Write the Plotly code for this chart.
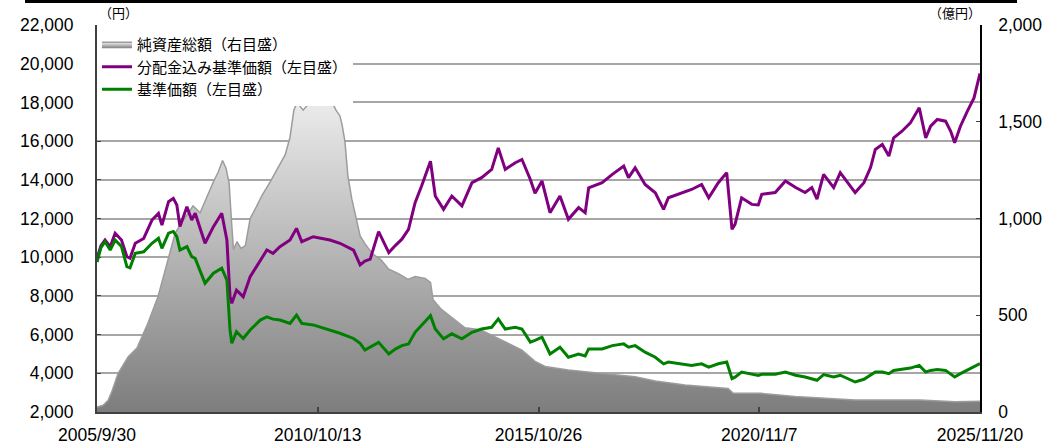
import plotly.graph_objects as go

# ---------------- data ----------------
nav_dates = [
    "2005-09-30", "2005-11-20", "2006-01-01", "2006-02-03", "2006-03-25", "2006-06-17",
    "2006-08-29", "2006-11-28", "2007-02-20", "2007-04-05", "2007-06-03", "2007-07-13",
    "2007-08-22", "2007-10-12", "2007-12-09", "2008-02-06", "2008-04-06", "2008-05-27",
    "2008-07-06", "2008-08-11", "2008-09-09", "2008-10-05", "2008-10-23", "2008-11-10",
    "2008-12-09", "2009-01-11", "2009-02-17", "2009-03-29", "2009-05-19", "2009-07-06",
    "2009-09-13", "2009-11-17", "2010-01-15", "2010-02-24", "2010-03-28", "2010-04-23",
    "2010-06-13", "2010-08-07", "2010-10-16", "2010-12-13", "2011-02-02", "2011-03-14",
    "2011-04-16", "2011-05-05", "2011-05-27", "2011-06-21", "2011-07-24", "2011-08-26",
    "2011-10-01", "2011-11-10", "2012-01-08", "2012-03-25", "2012-05-23", "2012-08-15",
    "2012-11-03", "2013-01-01", "2013-03-26", "2013-05-09", "2013-05-31", "2013-08-08",
    "2013-12-03", "2014-02-21", "2014-06-29", "2014-10-30", "2015-02-17", "2015-06-10",
    "2015-09-27", "2015-12-20", "2016-07-01", "2017-03-20", "2018-01-08", "2018-06-25",
    "2019-02-28", "2020-02-21", "2020-04-05", "2020-11-14", "2021-09-02", "2023-01-15",
    "2024-07-08", "2025-04-27", "2025-11-20",
]
net_assets = [
    25, 35, 60, 110, 200, 286,
    330, 458, 596, 700, 840, 923,
    965, 1010, 1065, 1030, 1120, 1190,
    1240, 1300, 1260, 1180, 1000, 840,
    880, 845, 860, 1000, 1060, 1120,
    1190, 1260, 1330, 1420, 1560, 1600,
    1560, 1600, 1620, 1625, 1610, 1560,
    1530, 1480, 1400, 1220, 1100, 1010,
    910, 870, 820, 785, 740, 715,
    685, 700, 690, 670, 580, 530,
    475, 435, 425, 390, 355, 320,
    262, 235, 217, 200, 182, 160,
    140, 122, 97, 97, 80, 62,
    62, 53, 55,
]

price_dates = [
    "2005-09-30", "2005-11-02", "2005-12-06", "2006-01-18", "2006-02-28", "2006-04-22",
    "2006-06-06", "2006-07-02", "2006-08-15", "2006-10-24", "2007-01-01", "2007-02-24",
    "2007-03-25", "2007-05-19", "2007-06-28", "2007-07-27", "2007-08-22", "2007-10-19",
    "2007-11-28", "2007-12-27", "2008-03-18", "2008-05-27", "2008-08-04", "2008-09-16",
    "2008-10-12", "2008-10-27", "2008-12-05", "2009-01-30", "2009-03-29", "2009-06-21",
    "2009-08-15", "2009-10-05", "2009-12-02", "2010-02-24", "2010-04-19", "2010-06-02",
    "2010-09-05", "2011-01-22", "2011-04-16", "2011-08-07", "2011-10-01", "2011-11-10",
    "2011-12-24", "2012-03-03", "2012-05-27", "2012-07-20", "2012-09-13", "2012-11-07",
    "2013-01-01", "2013-02-24", "2013-05-09", "2013-06-18", "2013-08-26", "2013-11-03",
    "2014-01-26", "2014-04-20", "2014-07-09", "2014-10-01", "2014-11-25", "2015-01-22",
    "2015-04-16", "2015-06-10", "2015-08-19", "2015-09-27", "2015-11-24", "2016-01-30",
    "2016-04-22", "2016-07-01", "2016-09-24", "2016-11-18", "2016-12-17", "2017-04-08",
    "2017-07-02", "2017-10-05", "2017-11-14", "2018-01-08", "2018-04-01", "2018-06-25",
    "2018-09-02", "2018-10-12", "2019-02-02", "2019-04-23", "2019-07-16", "2019-09-13",
    "2019-12-02", "2020-02-10", "2020-03-25", "2020-04-19", "2020-06-13", "2020-09-06",
    "2020-10-30", "2020-11-28", "2021-03-20", "2021-06-13", "2021-09-06", "2021-11-24",
    "2022-01-19", "2022-03-03", "2022-04-27", "2022-07-20", "2022-09-13", "2022-11-21",
    "2023-01-15", "2023-03-29", "2023-05-23", "2023-07-02", "2023-08-29", "2023-10-23",
    "2023-12-02", "2024-02-09", "2024-04-19", "2024-07-02", "2024-08-25", "2024-10-05",
    "2024-11-29", "2025-02-06", "2025-03-21", "2025-04-23", "2025-06-10", "2025-08-07",
    "2025-10-01", "2025-11-20",
]
nav_with_dist = [
    9950, 10600, 10890, 10540, 11240, 10890,
    10030, 9950, 10720, 10970, 11920, 12260,
    11660, 12870, 13040, 12700, 11580, 12610,
    11920, 12270, 10720, 11580, 12270, 10890,
    7960, 7620, 8300, 7960, 8990, 9850,
    10370, 10200, 10540, 10890, 11490, 10800,
    11060, 10890, 10720, 10370, 9600, 9800,
    9900, 11320, 10240, 10600, 10930, 11440,
    12820, 13680, 14960, 13160, 12470, 13160,
    12650, 13850, 14110, 14540, 15650, 14540,
    14880, 15050, 14020, 13300, 13940, 12300,
    13160, 11960, 12560, 12300, 13590, 13850,
    14280, 14710, 14110, 14620, 13760, 13330,
    12470, 13070, 13330, 13500, 13760, 13070,
    13850, 14370, 11440, 11700, 13070, 12730,
    12700, 13250, 13340, 13940, 13600, 13340,
    13600, 13000, 14280, 13600, 14370, 13770,
    13340, 13850, 14630, 15570, 15830, 15230,
    16170, 16510, 16940, 17720, 16170, 16770,
    17120, 17030, 16510, 15910, 16770, 17550,
    18230, 19500,
]
nav = [
    9750, 10500, 10800, 10370, 10890, 10550,
    9510, 9450, 10200, 10280, 10720, 10980,
    10460, 11240, 11330, 11060, 10370, 10550,
    10030, 9940, 8650, 9170, 9430, 8820,
    6240, 5550, 6150, 5800, 6240, 6750,
    6920, 6800, 6750, 6580, 7010, 6580,
    6500, 6240, 6070, 5800, 5550, 5200,
    5370, 5600, 5000, 5250, 5430, 5520,
    6120, 6460, 6980, 6290, 5780, 6040,
    5780, 6120, 6290, 6380, 6810, 6290,
    6380, 6290, 5610, 5700, 5870, 5000,
    5350, 4830, 5000, 4900, 5260, 5260,
    5430, 5520, 5350, 5430, 5090, 4830,
    4490, 4580, 4490, 4400, 4490, 4320,
    4490, 4580, 3720, 3800, 4060, 3980,
    3890, 3950, 3950, 4070, 3900, 3810,
    3730, 3640, 3930, 3810, 3900, 3720,
    3550, 3690, 3900, 4070, 4070, 3980,
    4150, 4200, 4270, 4410, 4070, 4150,
    4200, 4150, 3980, 3810, 3980, 4150,
    4320, 4500,
]

x_tick_dates = ["2005-09-30", "2010-10-13", "2015-10-26", "2020-11-07", "2025-11-20"]
x_tick_labels = ["2005/9/30", "2010/10/13", "2015/10/26", "2020/11/7", "2025/11/20"]
left_ticks = list(range(2000, 22001, 2000))
right_ticks = [0, 500, 1000, 1500, 2000]

series_names = ["純資産総額（右目盛）", "分配金込み基準価額（左目盛）", "基準価額（左目盛）"]

# ---------------- figure ----------------
TICK_FONT = dict(family="Liberation Sans, Arial, sans-serif", size=17.5, color="#000000")
CJK = "Noto Sans CJK JP, sans-serif"

fig = go.Figure()

# area on the primary axis (drawn first / underneath), shown on the right side
fig.add_trace(go.Scatter(
    x=nav_dates, y=net_assets, name=series_names[0], yaxis="y",
    mode="lines", line=dict(color="#9c9c9c", width=1.5),
    fill="tozeroy",
    fillgradient=dict(type="vertical", start=0, stop=1700,
                      colorscale=[[0, "#7d7d7d"], [1, "#f2f2f2"]]),
))
# price lines on the overlaying axis (drawn on top), shown on the left side
fig.add_trace(go.Scatter(
    x=price_dates, y=nav_with_dist, name=series_names[1], yaxis="y2",
    mode="lines", line=dict(color="#800080", width=3),
))
fig.add_trace(go.Scatter(
    x=price_dates, y=nav, name=series_names[2], yaxis="y2",
    mode="lines", line=dict(color="#008000", width=3),
))

fig.update_layout(
    width=1063, height=444,
    margin=dict(l=97, r=83, t=25, b=32, autoexpand=False),
    paper_bgcolor="white", plot_bgcolor="white",
    separators=".,",
    showlegend=True,
    legend=dict(x=0.0, y=1.0 - 3 / 387, xanchor="left", yanchor="top",
                bgcolor="white", borderwidth=0,
                font=dict(family=CJK, size=15, color="#000000"),
                tracegroupgap=0, itemwidth=30),
    xaxis=dict(
        type="date", range=[x_tick_dates[0], x_tick_dates[-1]],
        tickmode="array", tickvals=x_tick_dates, ticktext=x_tick_labels,
        tickfont=TICK_FONT, ticks="inside", ticklen=5, tickwidth=1.5, tickcolor="#404040",
        showline=True, linecolor="#404040", linewidth=2,
        showgrid=False, zeroline=False, ticklabelstandoff=6, automargin=False,
    ),
    yaxis=dict(
        range=[0, 2000], side="right",
        tickmode="array", tickvals=right_ticks, tickformat=",d", tickfont=TICK_FONT,
        ticks="inside", ticklen=4, tickcolor="#404040",
        showline=True, linecolor="#000000", linewidth=1.5,
        showgrid=False, zeroline=False, ticklabelstandoff=13, automargin=False,
    ),
    yaxis2=dict(
        range=[2000, 22000], overlaying="y", side="left",
        tickmode="array", tickvals=left_ticks,
        tickformat=",d", tickfont=TICK_FONT,
        ticks="inside", ticklen=4, tickcolor="#404040",
        showline=True, linecolor="#404040", linewidth=2,
        showgrid=True, gridcolor="#a6a6a6", gridwidth=1.5,
        zeroline=False, ticklabelstandoff=18, automargin=False,
    ),
    annotations=[
        dict(text="（円）", xref="paper", yref="paper", x=0.0, y=1.0, xanchor="left",
             yanchor="bottom", yshift=1, showarrow=False,
             font=dict(family=CJK, size=13, color="#000000")),
        dict(text="（億円）", xref="paper", yref="paper", x=1.0, y=1.0, xanchor="right",
             yanchor="bottom", yshift=1, xshift=3, showarrow=False,
             font=dict(family=CJK, size=13, color="#000000")),
    ],
)

# cut-off table border along the very top of the image
border_x = [26, 225, 357, 488, 620, 752, 883, 1016]
shapes = [dict(type="line", xref="paper", yref="paper",
               x0=(border_x[0] - 97) / 883, x1=(border_x[-1] - 97) / 883,
               y0=(412 - 1.5) / 387, y1=(412 - 1.5) / 387,
               line=dict(color="#000000", width=3))]
for bx in border_x:
    shapes.append(dict(type="line", xref="paper", yref="paper",
                       x0=(bx - 97) / 883, x1=(bx - 97) / 883,
                       y0=(412 - 3) / 387, y1=(412 + 20) / 387,
                       line=dict(color="#000000", width=2)))
fig.update_layout(shapes=shapes)

# remove the page's default body margin so the figure sits at the window's corner
fig.write_html(
    "out.html",
    config={"displayModeBar": False},
    post_script="document.body.style.margin='0';document.body.style.overflow='hidden';",
)
